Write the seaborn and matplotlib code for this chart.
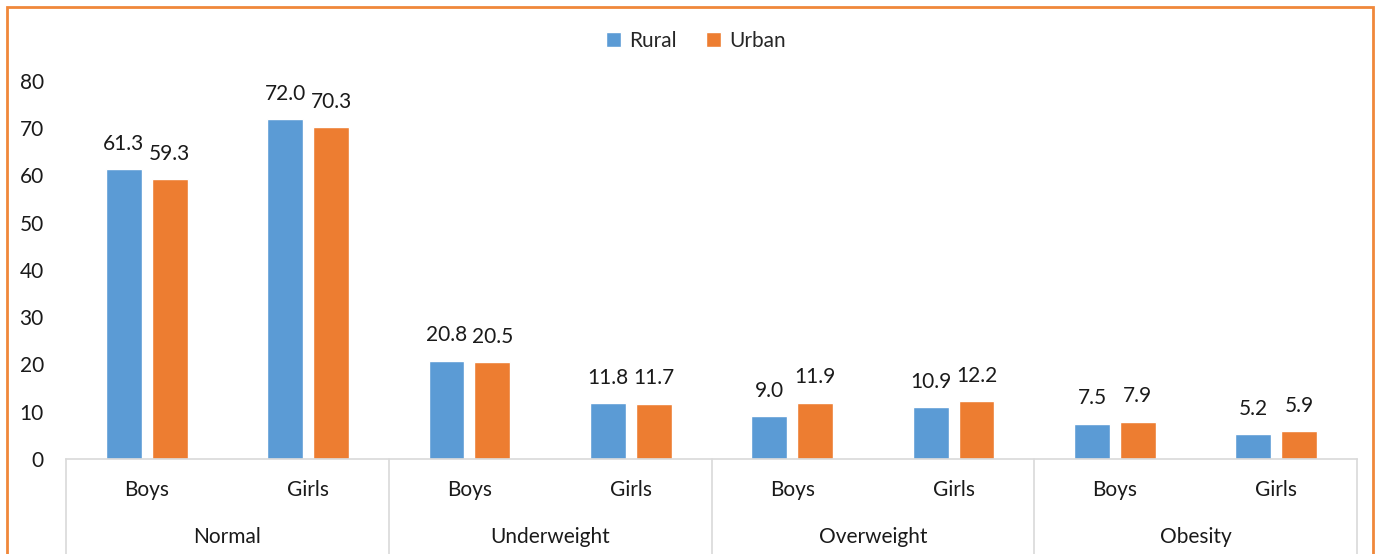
import matplotlib
matplotlib.use("Agg")
import matplotlib.pyplot as plt
import matplotlib.transforms as mtransforms
from matplotlib.patches import Rectangle
import seaborn as sns
import pandas as pd

groups = ["Normal", "Underweight", "Overweight", "Obesity"]
sexes = ["Boys", "Girls"]
series = ["Rural", "Urban"]
rural = [61.3, 72.0, 20.8, 11.8, 9.0, 10.9, 7.5, 5.2]
urban = [59.3, 70.3, 20.5, 11.7, 11.9, 12.2, 7.9, 5.9]
yticks = [0, 10, 20, 30, 40, 50, 60, 70, 80]

colors = {"Rural": "#5B9BD5", "Urban": "#ED7D31"}

cats = [f"{g}|{s}" for g in groups for s in sexes]
rows = []
for i, c in enumerate(cats):
    rows.append({"cat": c, "series": "Rural", "value": rural[i]})
    rows.append({"cat": c, "series": "Urban", "value": urban[i]})
df = pd.DataFrame(rows)

sns.set_style("white")
plt.rcParams["font.family"] = ["Lato", "DejaVu Sans"]
FS = 15
TC = "#1a1a1a"

fig = plt.figure(figsize=(13.75, 5.54), dpi=100)
ax = fig.add_axes([66/1375, 1-459/554, (1357-66)/1375, (459-81)/554])

sns.barplot(data=df, x="cat", y="value", hue="series", order=cats,
            hue_order=series, palette=colors, width=0.57, gap=0.22,
            saturation=1, ax=ax, legend=True)

for cont in ax.containers:
    ax.bar_label(cont, fmt="%.1f", padding=11, fontsize=FS, color=TC)

ax.set_ylim(0, 80)
ax.set_xlim(-0.5, len(cats) - 0.5)
ax.set_yticks(yticks)
ax.set_yticklabels([str(v) for v in yticks], fontsize=FS, color=TC)
ax.tick_params(axis="y", length=0, pad=16)
ax.set_xticks([])
ax.set_xlabel("")
ax.set_ylabel("")
for sp in ["left", "right", "top"]:
    ax.spines[sp].set_visible(False)
ax.spines["bottom"].set_color("#D9D9D9")
ax.spines["bottom"].set_linewidth(1.2)

trans = mtransforms.blended_transform_factory(ax.transData, ax.transAxes)
for i, c in enumerate(cats):
    ax.text(i, -0.082, c.split("|")[1], transform=trans, ha="center",
            va="center", fontsize=FS, color=TC)
for j, g in enumerate(groups):
    ax.text(2*j + 0.5, -0.206, g, transform=trans, ha="center",
            va="center", fontsize=FS, color=TC)
for k in range(len(groups) + 1):
    x = 2*k - 0.5
    ax.plot([x, x], [0, -0.27], transform=trans, color="#D9D9D9",
            lw=1.2, clip_on=False)

h, l = ax.get_legend_handles_labels()
ax.get_legend().remove()
fig.legend(h, l, loc="center", bbox_to_anchor=(696/1375, 1-41/554), ncol=2,
           frameon=False, fontsize=FS, handlelength=0.7, handleheight=0.7,
           handletextpad=0.4, columnspacing=1.4)

border = Rectangle((7/1375, -0.1), (1373-7)/1375, 1-7/554+0.1,
                   transform=fig.transFigure, fill=False,
                   edgecolor="#F0883A", lw=2, clip_on=False)
fig.patches.append(border)

fig.savefig("out.png", dpi=100)
